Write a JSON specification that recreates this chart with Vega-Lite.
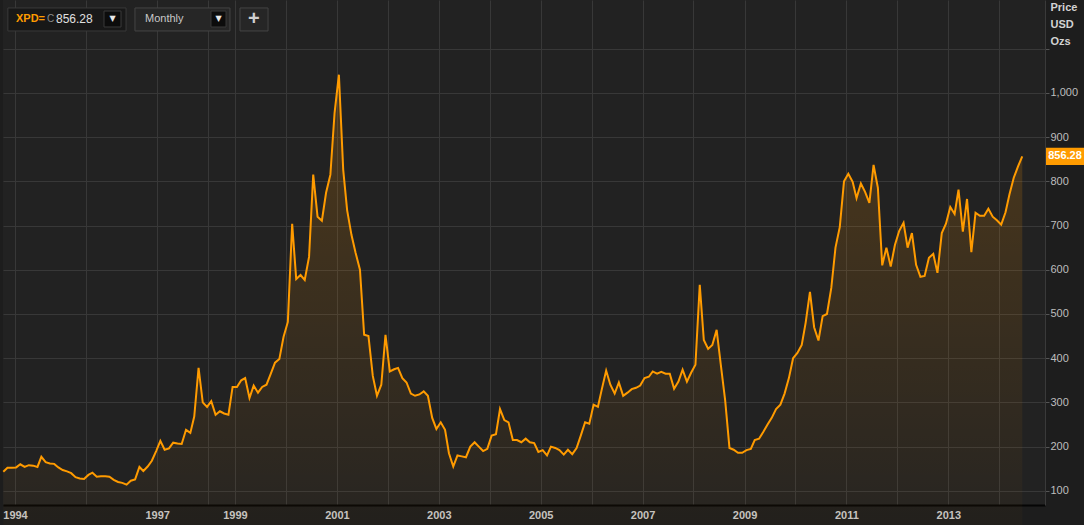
{
  "$schema": "https://vega.github.io/schema/vega-lite/v6.json",
  "width": 1042,
  "height": 505,
  "autosize": {"type": "none"},
  "padding": {"left": 3, "top": 0, "right": 39, "bottom": 20},
  "background": "#1d1d1d",
  "config": {"font": "Liberation Sans", "view": {"stroke": null, "fill": "#222222"}},
  "datasets": {
    "xpd": [
      {"d":"1994-06-15","p":143},{"d":"1994-07-15","p":152},{"d":"1994-08-15","p":152},{"d":"1994-09-15","p":153},{"d":"1994-10-15","p":160},{"d":"1994-11-15","p":154},{"d":"1994-12-15","p":158},
      {"d":"1995-01-15","p":157},{"d":"1995-02-15","p":154},{"d":"1995-03-15","p":177},{"d":"1995-04-15","p":165},{"d":"1995-05-15","p":162},{"d":"1995-06-15","p":161},{"d":"1995-07-15","p":153},{"d":"1995-08-15","p":147},{"d":"1995-09-15","p":144},{"d":"1995-10-15","p":140},{"d":"1995-11-15","p":131},{"d":"1995-12-15","p":128},
      {"d":"1996-01-15","p":127},{"d":"1996-02-15","p":136},{"d":"1996-03-15","p":141},{"d":"1996-04-15","p":132},{"d":"1996-05-15","p":133},{"d":"1996-06-15","p":133},{"d":"1996-07-15","p":132},{"d":"1996-08-15","p":125},{"d":"1996-09-15","p":120},{"d":"1996-10-15","p":118},{"d":"1996-11-15","p":114},{"d":"1996-12-15","p":123},
      {"d":"1997-01-15","p":126},{"d":"1997-02-15","p":154},{"d":"1997-03-15","p":145},{"d":"1997-04-15","p":155},{"d":"1997-05-15","p":168},{"d":"1997-06-15","p":190},{"d":"1997-07-15","p":213},{"d":"1997-08-15","p":193},{"d":"1997-09-15","p":196},{"d":"1997-10-15","p":209},{"d":"1997-11-15","p":207},{"d":"1997-12-15","p":206},
      {"d":"1998-01-15","p":238},{"d":"1998-02-15","p":231},{"d":"1998-03-15","p":268},{"d":"1998-04-15","p":378},{"d":"1998-05-15","p":300},{"d":"1998-06-15","p":290},{"d":"1998-07-15","p":303},{"d":"1998-08-15","p":272},{"d":"1998-09-15","p":280},{"d":"1998-10-15","p":275},{"d":"1998-11-15","p":272},{"d":"1998-12-15","p":335},
      {"d":"1999-01-15","p":335},{"d":"1999-02-15","p":350},{"d":"1999-03-15","p":355},{"d":"1999-04-15","p":310},{"d":"1999-05-15","p":338},{"d":"1999-06-15","p":322},{"d":"1999-07-15","p":335},{"d":"1999-08-15","p":340},{"d":"1999-09-15","p":365},{"d":"1999-10-15","p":390},{"d":"1999-11-15","p":398},{"d":"1999-12-15","p":448},
      {"d":"2000-01-15","p":482},{"d":"2000-02-15","p":704},{"d":"2000-03-15","p":579},{"d":"2000-04-15","p":588},{"d":"2000-05-15","p":577},{"d":"2000-06-15","p":629},{"d":"2000-07-15","p":815},{"d":"2000-08-15","p":720},{"d":"2000-09-15","p":711},{"d":"2000-10-15","p":774},{"d":"2000-11-15","p":815},{"d":"2000-12-15","p":955},
      {"d":"2001-01-15","p":1041},{"d":"2001-02-15","p":826},{"d":"2001-03-15","p":735},{"d":"2001-04-15","p":679},{"d":"2001-05-15","p":638},{"d":"2001-06-15","p":600},{"d":"2001-07-15","p":453},{"d":"2001-08-15","p":450},{"d":"2001-09-15","p":360},{"d":"2001-10-15","p":315},{"d":"2001-11-15","p":340},{"d":"2001-12-15","p":453},
      {"d":"2002-01-15","p":370},{"d":"2002-02-15","p":375},{"d":"2002-03-15","p":378},{"d":"2002-04-15","p":355},{"d":"2002-05-15","p":345},{"d":"2002-06-15","p":320},{"d":"2002-07-15","p":315},{"d":"2002-08-15","p":318},{"d":"2002-09-15","p":325},{"d":"2002-10-15","p":315},{"d":"2002-11-15","p":265},{"d":"2002-12-15","p":240},
      {"d":"2003-01-15","p":255},{"d":"2003-02-15","p":238},{"d":"2003-03-15","p":185},{"d":"2003-04-15","p":155},{"d":"2003-05-15","p":180},{"d":"2003-06-15","p":178},{"d":"2003-07-15","p":176},{"d":"2003-08-15","p":200},{"d":"2003-09-15","p":210},{"d":"2003-10-15","p":200},{"d":"2003-11-15","p":190},{"d":"2003-12-15","p":195},
      {"d":"2004-01-15","p":225},{"d":"2004-02-15","p":228},{"d":"2004-03-15","p":285},{"d":"2004-04-15","p":260},{"d":"2004-05-15","p":255},{"d":"2004-06-15","p":215},{"d":"2004-07-15","p":215},{"d":"2004-08-15","p":210},{"d":"2004-09-15","p":218},{"d":"2004-10-15","p":210},{"d":"2004-11-15","p":208},{"d":"2004-12-15","p":188},
      {"d":"2005-01-15","p":192},{"d":"2005-02-15","p":180},{"d":"2005-03-15","p":200},{"d":"2005-04-15","p":197},{"d":"2005-05-15","p":192},{"d":"2005-06-15","p":182},{"d":"2005-07-15","p":193},{"d":"2005-08-15","p":183},{"d":"2005-09-15","p":197},{"d":"2005-10-15","p":225},{"d":"2005-11-15","p":255},{"d":"2005-12-15","p":252},
      {"d":"2006-01-15","p":295},{"d":"2006-02-15","p":290},{"d":"2006-03-15","p":330},{"d":"2006-04-15","p":372},{"d":"2006-05-15","p":340},{"d":"2006-06-15","p":320},{"d":"2006-07-15","p":345},{"d":"2006-08-15","p":315},{"d":"2006-09-15","p":322},{"d":"2006-10-15","p":330},{"d":"2006-11-15","p":333},{"d":"2006-12-15","p":338},
      {"d":"2007-01-15","p":355},{"d":"2007-02-15","p":358},{"d":"2007-03-15","p":370},{"d":"2007-04-15","p":365},{"d":"2007-05-15","p":369},{"d":"2007-06-15","p":365},{"d":"2007-07-15","p":365},{"d":"2007-08-15","p":331},{"d":"2007-09-15","p":347},{"d":"2007-10-15","p":374},{"d":"2007-11-15","p":347},{"d":"2007-12-15","p":367},
      {"d":"2008-01-15","p":385},{"d":"2008-02-15","p":566},{"d":"2008-03-15","p":441},{"d":"2008-04-15","p":421},{"d":"2008-05-15","p":430},{"d":"2008-06-15","p":464},{"d":"2008-07-15","p":385},{"d":"2008-08-15","p":305},{"d":"2008-09-15","p":197},{"d":"2008-10-15","p":193},{"d":"2008-11-15","p":186},{"d":"2008-12-15","p":186},
      {"d":"2009-01-15","p":192},{"d":"2009-02-15","p":195},{"d":"2009-03-15","p":215},{"d":"2009-04-15","p":218},{"d":"2009-05-15","p":233},{"d":"2009-06-15","p":250},{"d":"2009-07-15","p":265},{"d":"2009-08-15","p":285},{"d":"2009-09-15","p":295},{"d":"2009-10-15","p":320},{"d":"2009-11-15","p":355},{"d":"2009-12-15","p":400},
      {"d":"2010-01-15","p":412},{"d":"2010-02-15","p":430},{"d":"2010-03-15","p":480},{"d":"2010-04-15","p":550},{"d":"2010-05-15","p":470},{"d":"2010-06-15","p":440},{"d":"2010-07-15","p":495},{"d":"2010-08-15","p":500},{"d":"2010-09-15","p":559},{"d":"2010-10-15","p":650},{"d":"2010-11-15","p":697},{"d":"2010-12-15","p":800},
      {"d":"2011-01-15","p":817},{"d":"2011-02-15","p":799},{"d":"2011-03-15","p":762},{"d":"2011-04-15","p":795},{"d":"2011-05-15","p":776},{"d":"2011-06-15","p":751},{"d":"2011-07-15","p":837},{"d":"2011-08-15","p":785},{"d":"2011-09-15","p":610},{"d":"2011-10-15","p":650},{"d":"2011-11-15","p":607},{"d":"2011-12-15","p":656},
      {"d":"2012-01-15","p":688},{"d":"2012-02-15","p":706},{"d":"2012-03-15","p":650},{"d":"2012-04-15","p":683},{"d":"2012-05-15","p":611},{"d":"2012-06-15","p":584},{"d":"2012-07-15","p":586},{"d":"2012-08-15","p":627},{"d":"2012-09-15","p":636},{"d":"2012-10-15","p":593},{"d":"2012-11-15","p":683},{"d":"2012-12-15","p":704},
      {"d":"2013-01-15","p":742},{"d":"2013-02-15","p":726},{"d":"2013-03-15","p":781},{"d":"2013-04-15","p":686},{"d":"2013-05-15","p":760},{"d":"2013-06-15","p":640},{"d":"2013-07-15","p":729},{"d":"2013-08-15","p":722},{"d":"2013-09-15","p":722},{"d":"2013-10-15","p":738},{"d":"2013-11-15","p":720},{"d":"2013-12-15","p":712},
      {"d":"2014-01-15","p":702},{"d":"2014-02-15","p":730},{"d":"2014-03-15","p":770},{"d":"2014-04-15","p":808},{"d":"2014-05-15","p":833},{"d":"2014-06-15","p":856.28}
    ],
    "ui": [
      {"item":"box1","d":"1994-07-18","d2":"1996-11-11","p":1192,"p2":1140},
      {"item":"box2","d":"1997-01-14","d2":"1998-11-26","p":1192,"p2":1140},
      {"item":"box2","d":"1999-02-06","d2":"1999-08-26","p":1192,"p2":1140},
      {"item":"btn","d":"1996-06-06","d2":"1996-10-06","p":1185,"p2":1149},
      {"item":"btn","d":"1998-07-13","d2":"1998-10-29","p":1185,"p2":1149},
      {"item":"sym","d":"1994-09-14","p":1166,"t":"XPD="},
      {"item":"c","d":"1995-04-24","p":1166,"t":"C"},
      {"item":"val","d":"1995-06-28","p":1166,"t":"856.28"},
      {"item":"lbl","d":"1997-03-27","p":1166,"t":"Monthly"},
      {"item":"arrow","d":"1996-08-06","p":1166,"t":"▼"},
      {"item":"arrow","d":"1998-09-05","p":1166,"t":"▼"},
      {"item":"plus","d":"1999-05-17","p":1166,"t":"+"}
    ]
  },
  "layer": [
    {
      "data": {"name": "xpd"},
      "mark": {
        "type": "area",
        "color": {"gradient": "linear", "x1": 1, "x2": 1, "y1": 0, "y2": 1,
          "stops": [{"offset": 0, "color": "rgba(255,150,0,0.2)"}, {"offset": 1, "color": "rgba(255,150,0,0.02)"}]}
      },
      "encoding": {
        "x": {
          "field": "d", "type": "temporal",
          "scale": {"domain": [{"year": 1994, "month": 6, "date": 13}, {"year": 2014, "month": 11, "date": 25}]},
          "axis": {
            "title": null, "orient": "bottom",
            "values": [
              {"year": 1994, "month": 9, "date": 7}, {"year": 1996, "month": 1, "date": 28}, {"year": 1997, "month": 6, "date": 22}, {"year": 1998, "month": 6, "date": 22},
              {"year": 1999, "month": 1, "date": 1}, {"year": 2000, "month": 1, "date": 1}, {"year": 2001, "month": 1, "date": 1}, {"year": 2002, "month": 1, "date": 1},
              {"year": 2003, "month": 1, "date": 1}, {"year": 2004, "month": 1, "date": 1}, {"year": 2005, "month": 1, "date": 1}, {"year": 2006, "month": 1, "date": 1},
              {"year": 2007, "month": 1, "date": 1}, {"year": 2008, "month": 1, "date": 1}, {"year": 2009, "month": 1, "date": 1}, {"year": 2010, "month": 1, "date": 1},
              {"year": 2011, "month": 1, "date": 1}, {"year": 2012, "month": 1, "date": 1}, {"year": 2013, "month": 1, "date": 1}, {"year": 2014, "month": 1, "date": 1}
            ],
            "labelExpr": "month(datum.value) == 0 ? (year(datum.value) % 2 == 1 ? timeFormat(datum.value, '%Y') : '') : ((year(datum.value) == 1994 || year(datum.value) == 1997) ? timeFormat(datum.value, '%Y') : '')",
            "grid": true, "gridColor": "#383838", "gridWidth": 1,
            "ticks": false, "domain": true, "domainColor": "#050505", "domainWidth": 2,
            "labelColor": "#c4c4c4", "labelFontSize": 11, "labelFontWeight": "bold", "labelPadding": 4,
            "labelOverlap": false, "labelFlush": false, "labelBound": false
          }
        },
        "y": {
          "field": "p", "type": "quantitative",
          "scale": {"domain": [68, 1210], "nice": false, "zero": false},
          "axis": {
            "orient": "right",
            "values": [100, 200, 300, 400, 500, 600, 700, 800, 900, 1000, 1100],
            "labelExpr": "datum.value > 1000 ? '' : format(datum.value, ',')",
            "grid": true, "gridColor": "#383838", "gridWidth": 1,
            "tickColor": "#555555", "tickSize": 4, "labelPadding": 1,
            "domain": true, "domainColor": "#3a3a3a",
            "labelColor": "#bdbdbd", "labelFontSize": 11,
            "title": ["Price", "USD", "Ozs"], "titleAngle": 0, "titleAlign": "left", "titleBaseline": "top",
            "titleX": 5, "titleY": 1, "titleLineHeight": 17, "titleColor": "#d2d2d2", "titleFontSize": 11, "titleFontWeight": "bold"
          }
        }
      }
    },
    {
      "data": {"name": "xpd"},
      "mark": {"type": "line", "color": "#ff9b00", "strokeWidth": 2},
      "encoding": {
        "x": {"field": "d", "type": "temporal"},
        "y": {"field": "p", "type": "quantitative"}
      }
    },
    {
      "data": {"name": "xpd"},
      "transform": [
        {"window": [{"op": "row_number", "as": "rn"}], "sort": [{"field": "d", "order": "descending"}]},
        {"filter": "datum.rn == 1"}
      ],
      "layer": [
        {
          "mark": {"type": "point", "shape": "M-1,-0.45H1V0.45H-1Z", "size": 1444, "filled": true, "color": "#ff9b00", "opacity": 1, "x": {"expr": "width + 20"}},
          "encoding": {"y": {"field": "p", "type": "quantitative"}}
        },
        {
          "mark": {"type": "text", "color": "#ffffff", "fontWeight": "bold", "fontSize": 11, "align": "center", "baseline": "middle", "x": {"expr": "width + 20"}},
          "encoding": {"y": {"field": "p", "type": "quantitative"}, "text": {"field": "p", "type": "quantitative", "format": ".2f"}}
        }
      ]
    },
    {
      "data": {"name": "ui"},
      "transform": [{"filter": "datum.item == 'box1'"}],
      "mark": {"type": "rect", "fill": "#181818", "stroke": "#3a3a3a", "strokeWidth": 1},
      "encoding": {
        "x": {"field": "d", "type": "temporal"}, "x2": {"field": "d2"},
        "y": {"field": "p", "type": "quantitative"}, "y2": {"field": "p2"}
      }
    },
    {
      "data": {"name": "ui"},
      "transform": [{"filter": "datum.item == 'box2'"}],
      "mark": {"type": "rect", "fill": "#262626", "stroke": "#444444", "strokeWidth": 1},
      "encoding": {
        "x": {"field": "d", "type": "temporal"}, "x2": {"field": "d2"},
        "y": {"field": "p", "type": "quantitative"}, "y2": {"field": "p2"}
      }
    },
    {
      "data": {"name": "ui"},
      "transform": [{"filter": "datum.item == 'btn'"}],
      "mark": {"type": "rect", "fill": "#0c0c0c", "stroke": "#3a3a3a", "strokeWidth": 1},
      "encoding": {
        "x": {"field": "d", "type": "temporal"}, "x2": {"field": "d2"},
        "y": {"field": "p", "type": "quantitative"}, "y2": {"field": "p2"}
      }
    },
    {
      "data": {"name": "ui"},
      "transform": [{"filter": "datum.item == 'sym'"}],
      "mark": {"type": "text", "align": "left", "baseline": "middle", "color": "#ff9b00", "fontWeight": "bold", "fontSize": 11},
      "encoding": {"x": {"field": "d", "type": "temporal"}, "y": {"field": "p", "type": "quantitative"}, "text": {"field": "t"}}
    },
    {
      "data": {"name": "ui"},
      "transform": [{"filter": "datum.item == 'c'"}],
      "mark": {"type": "text", "align": "left", "baseline": "middle", "color": "#8a8a8a", "fontSize": 10},
      "encoding": {"x": {"field": "d", "type": "temporal"}, "y": {"field": "p", "type": "quantitative"}, "text": {"field": "t"}}
    },
    {
      "data": {"name": "ui"},
      "transform": [{"filter": "datum.item == 'val'"}],
      "mark": {"type": "text", "align": "left", "baseline": "middle", "color": "#e0e0e0", "fontSize": 12},
      "encoding": {"x": {"field": "d", "type": "temporal"}, "y": {"field": "p", "type": "quantitative"}, "text": {"field": "t"}}
    },
    {
      "data": {"name": "ui"},
      "transform": [{"filter": "datum.item == 'lbl'"}],
      "mark": {"type": "text", "align": "left", "baseline": "middle", "color": "#c8c8c8", "fontSize": 11},
      "encoding": {"x": {"field": "d", "type": "temporal"}, "y": {"field": "p", "type": "quantitative"}, "text": {"field": "t"}}
    },
    {
      "data": {"name": "ui"},
      "transform": [{"filter": "datum.item == 'arrow'"}],
      "mark": {"type": "text", "align": "center", "baseline": "middle", "color": "#e8e8e8", "fontSize": 8, "font": "DejaVu Sans"},
      "encoding": {"x": {"field": "d", "type": "temporal"}, "y": {"field": "p", "type": "quantitative"}, "text": {"field": "t"}}
    },
    {
      "data": {"name": "ui"},
      "transform": [{"filter": "datum.item == 'plus'"}],
      "mark": {"type": "text", "align": "center", "baseline": "middle", "color": "#cfcfcf", "fontSize": 20, "fontWeight": "bold"},
      "encoding": {"x": {"field": "d", "type": "temporal"}, "y": {"field": "p", "type": "quantitative"}, "text": {"field": "t"}}
    }
  ]
}
